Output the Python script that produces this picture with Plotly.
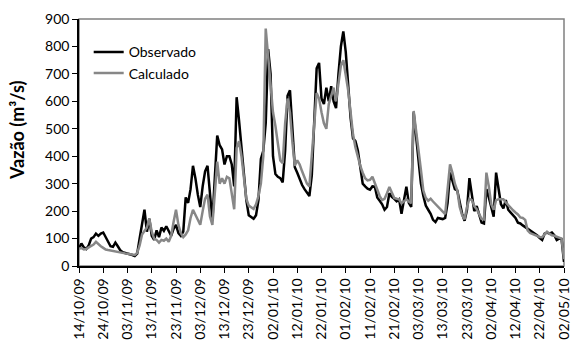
import pandas as pd
import plotly.graph_objects as go

start_date = "2009-10-14"

observado = [
    65, 82, 68, 62, 75, 100, 105, 118, 110, 118,
    122, 105, 90, 72, 70, 85, 72, 58, 50, 48,
    46, 42, 40, 36, 45, 100, 150, 205, 125, 172,
    110, 95, 130, 105, 140, 128, 145, 130, 110, 135,
    150, 120, 110, 125, 250, 230, 280, 365, 320, 260,
    215, 290, 345, 365, 250, 165, 320, 475, 440, 425,
    370, 400, 400, 370, 290, 615, 530, 430, 330, 240,
    185, 180, 172, 185, 240, 390, 420, 520, 790, 700,
    400, 335, 325, 320, 305, 420, 620, 640, 480, 360,
    340, 315, 295, 280, 268, 255, 330, 540, 720, 740,
    610, 590, 650, 600, 655, 600, 575, 700, 800, 855,
    780, 660, 540, 465, 455, 420, 360, 300, 290, 282,
    278, 290, 289, 250, 238, 225, 205, 215, 265, 252,
    245, 236, 243, 190, 240, 289, 230, 215, 560, 470,
    380, 300, 255, 220, 205, 190, 168, 160, 175, 172,
    171, 175, 230, 340, 310, 280, 275, 225, 190, 165,
    205, 320, 255, 200, 218, 188, 158, 155, 280, 250,
    210, 180, 340, 275, 225, 210, 240, 205, 195, 188,
    175, 158, 155, 148, 142, 136, 130, 122, 118, 111,
    102, 95, 118, 122, 118, 122, 112, 95, 100, 98,
    15,
]

calculado = [
    62, 66, 60, 62, 68, 72, 78, 88, 78, 72,
    66, 60, 58, 56, 55, 54, 52, 50, 48, 46,
    45, 43, 40, 40, 48, 75, 115, 130, 140, 172,
    125, 100, 95, 85, 95, 92, 100, 88, 110, 160,
    205, 150, 120, 105, 115, 130, 175, 205, 185, 165,
    150, 200, 245, 260, 180, 150, 250, 380, 300, 320,
    300, 325, 320, 260, 207, 430, 455, 400, 320, 245,
    220, 215, 208, 225, 255, 300, 400, 865, 760, 640,
    560, 510, 440, 385, 375, 520, 610, 560, 450, 365,
    385, 370, 345, 320, 300, 290, 420, 515, 630, 610,
    560, 520, 500, 590, 620, 650, 600, 660, 730, 750,
    693, 640, 560, 480, 432, 395, 365, 340, 320, 312,
    314, 325, 300, 275, 255, 240, 245, 265, 288, 268,
    248, 245, 243, 228, 235, 243, 235, 229, 565, 500,
    430, 350, 275, 248, 238, 245, 235, 225, 215, 208,
    195, 189, 280, 370, 340, 300, 275, 215, 185, 170,
    215, 245, 240, 218, 207, 190, 172, 170, 340, 290,
    225, 205, 240, 243, 243, 243, 232, 222, 210, 203,
    195, 188, 177, 175, 168, 130, 120, 116, 112, 110,
    106, 105, 115, 125, 118, 112, 110, 106, 104, 100,
    25,
]

dates = pd.date_range(start_date, periods=len(observado), freq="D")

font_family = "Lato, 'Open Sans', sans-serif"

fig = go.Figure()
fig.add_trace(go.Scatter(
    x=dates, y=observado, mode="lines", name="Observado",
    line=dict(color="#000000", width=2.5),
))
fig.add_trace(go.Scatter(
    x=dates, y=calculado, mode="lines", name="Calculado",
    line=dict(color="#878787", width=2.5),
))

fig.update_layout(
    width=580, height=348,
    margin=dict(l=79, r=8, t=19, b=77),
    paper_bgcolor="white", plot_bgcolor="white",
    font=dict(family=font_family, color="#000000", size=14),
    showlegend=True,
    legend=dict(
        x=0.02, y=0.93, xanchor="left", yanchor="top",
        bgcolor="rgba(0,0,0,0)", font=dict(size=14, family=font_family),
        tracegroupgap=0,
    ),
    xaxis=dict(
        type="date",
        range=[dates[0], dates[-1]],
        tick0=start_date, dtick=10 * 86400000,
        tickformat="%d/%m/%y", tickangle=-90,
        ticks="outside", ticklen=5, tickcolor="#000000",
        showline=True, linecolor="#000000", linewidth=1.5,
        showgrid=False, zeroline=False,
        tickfont=dict(size=14, family=font_family),
    ),
    yaxis=dict(
        range=[0, 900], dtick=100,
        ticks="outside", ticklen=5, tickcolor="#000000",
        showline=True, linecolor="#000000", linewidth=1.5,
        showgrid=False, zeroline=False,
        tickfont=dict(size=14, family=font_family),
    ),
    shapes=[dict(
        type="rect", xref="paper", yref="paper", x0=0, y0=0, x1=1, y1=1,
        line=dict(color="#808080", width=1.5), layer="below",
    )],
    annotations=[dict(
        text="<b>Vazão (m³/s)</b>", xref="paper", yref="paper",
        x=-0.128, y=0.55, xanchor="center", yanchor="middle",
        textangle=-90, showarrow=False,
        font=dict(size=18, family=font_family, color="#000000"),
    )],
)

fig.write_html("out.html")
